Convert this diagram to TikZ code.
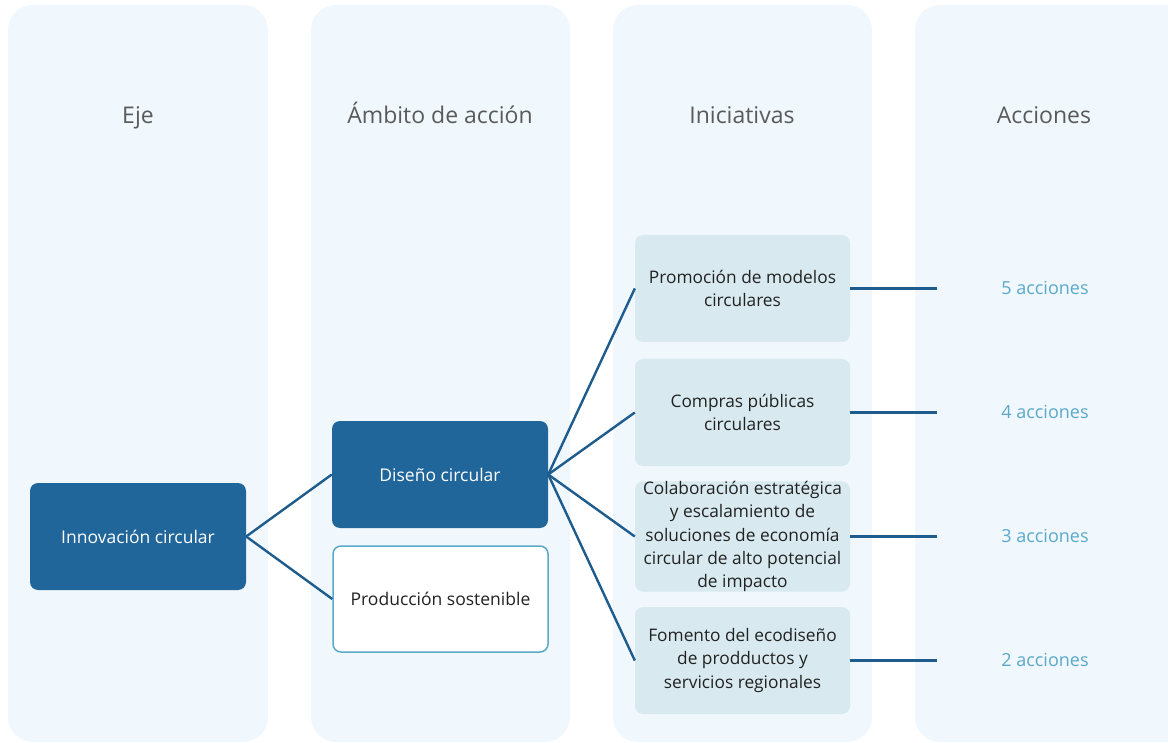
\documentclass[tikz,border=0pt]{standalone}
\usepackage{fontspec}
\setmainfont{Open Sans}
\definecolor{panel}{HTML}{F0F7FD}
\definecolor{dark}{HTML}{21669A}
\definecolor{line}{HTML}{1D5C8C}
\definecolor{light}{HTML}{D8EAF0}
\definecolor{head}{HTML}{5A5A5A}
\definecolor{acc}{HTML}{5BA9C9}
\definecolor{txt}{HTML}{222222}
\tikzset{
  panelbox/.style={fill=panel, draw=none, rounded corners=25pt},
  header/.style={text=head, font=\fontsize{23}{27}\selectfont, anchor=base},
  darknode/.style={fill=dark, draw=none, rounded corners=8pt, minimum width=216pt, minimum height=107pt, text=white, font=\fontsize{17.5}{23.5}\selectfont, align=center},
  outnode/.style={fill=white, draw=acc, line width=1.5pt, rounded corners=8pt, minimum width=215pt, minimum height=106pt, text=txt, font=\fontsize{17.5}{23.5}\selectfont, align=center},
  ininode/.style={fill=light, draw=none, rounded corners=8pt, minimum width=215pt, minimum height=107pt, text=txt, font=\fontsize{17.3}{23.2}\selectfont, align=center, inner sep=0pt},
  conn/.style={draw=line, line width=2.4pt},
  acctext/.style={text=acc, font=\fontsize{18}{22}\selectfont}
}
\begin{document}
\begin{tikzpicture}[x=1pt,y=-1pt]
\useasboundingbox (0,0) rectangle (1168,743);
% panels
\fill[panelbox] (8,5) rectangle (268,742);
\fill[panelbox] (311,5) rectangle (570,742);
\fill[panelbox] (613,5) rectangle (872,742);
\fill[panelbox] (915,5) rectangle (1190,742);
% headers
\node[header] (h1) at (138,124) {Eje};
\node[header] (h2) at (440,124) {Ámbito de acción};
\node[header] (h3) at (742,124) {Iniciativas};
\node[header] (h4) at (1044,124) {Acciones};
% nodes
\node[darknode] (inn) at (138,536.5) {Innovación circular};
\node[darknode] (dis) at (440,474.5) {Diseño circular};
\node[outnode] (pro) at (440.5,599) {Producción sostenible};
\node[ininode] (i1) at (742.5,288.5) {Promoción de modelos\\circulares};
\node[ininode] (i2) at (742.5,412.5) {Compras públicas\\circulares};
\node[ininode] (i3) at (742.5,536.5) {Colaboración estratégica\\y escalamiento de\\soluciones de economía\\circular de alto potencial\\de impacto};
\node[ininode] (i4) at (742.5,660.5) {Fomento del ecodiseño\\de prodductos y\\servicios regionales};
\node[acctext] (a1) at (1045,288) {5 acciones};
\node[acctext] (a2) at (1045,412) {4 acciones};
\node[acctext] (a3) at (1045,536) {3 acciones};
\node[acctext] (a4) at (1045,660) {2 acciones};
\coordinate (e1) at (937,288.5);
\coordinate (e2) at (937,412.5);
\coordinate (e3) at (937,536.5);
\coordinate (e4) at (937,660.5);
% connectors
\draw[conn] (inn.east) -- (dis.west);
\draw[conn] (inn.east) -- (pro.west);
\foreach \i in {1,2,3,4}{
  \draw[conn] (dis.east) -- (i\i.west);
  \draw[conn] (i\i.east) -- (e\i);
}
\end{tikzpicture}
\end{document}
